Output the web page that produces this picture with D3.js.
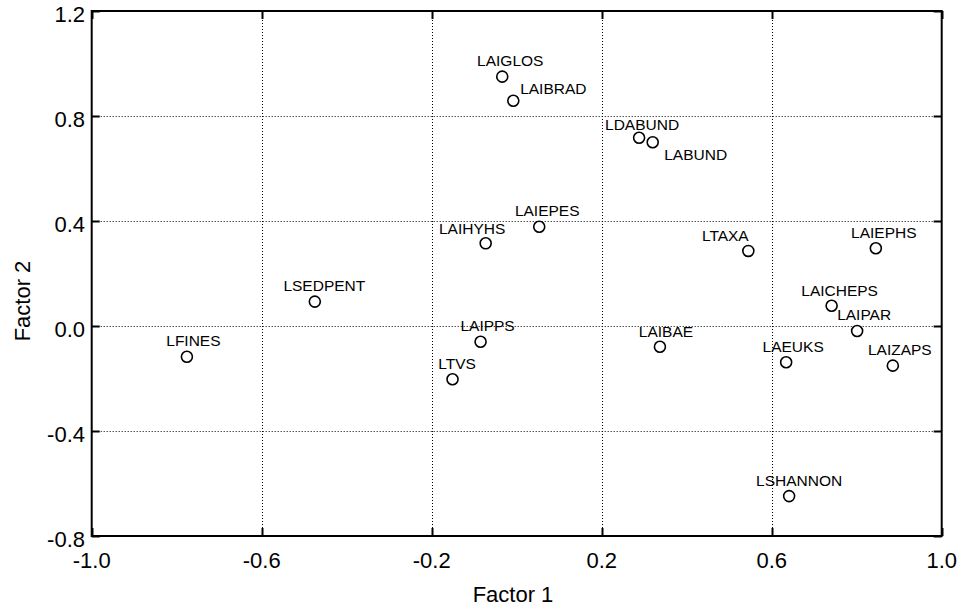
<!DOCTYPE html>
<html>
<head>
<meta charset="utf-8">
<script src="https://cdn.jsdelivr.net/npm/d3@7/dist/d3.min.js"></script>
<style>
  html, body { margin: 0; padding: 0; background: #fff; }
  svg { display: block; font-family: "Liberation Sans", Arial, Helvetica, sans-serif; }
</style>
</head>
<body>
<svg id="chart" width="968" height="612"></svg>
<script>
// Variable loadings on the first two factors
const variables = ["LAIGLOS", "LAIBRAD", "LDABUND", "LABUND", "LAIEPES", "LAIHYHS",
  "LTAXA", "LAIEPHS", "LAICHEPS", "LAIPAR", "LAEUKS", "LAIZAPS", "LSEDPENT",
  "LFINES", "LAIPPS", "LTVS", "LAIBAE", "LSHANNON"];
const factor1 = [-0.034, -0.008, 0.288, 0.320, 0.053, -0.073,
  0.545, 0.845, 0.741, 0.801, 0.634, 0.885, -0.475,
  -0.776, -0.085, -0.151, 0.337, 0.641];
const factor2 = [0.950, 0.858, 0.717, 0.700, 0.378, 0.315,
  0.286, 0.296, 0.077, -0.019, -0.138, -0.151, 0.093,
  -0.117, -0.060, -0.203, -0.079, -0.648];

const xTicks = [-1.0, -0.6, -0.2, 0.2, 0.6, 1.0];
const yTicks = [-0.8, -0.4, 0.0, 0.4, 0.8, 1.2];
const xTitle = "Factor 1";
const yTitle = "Factor 2";

// Label placement (text centre relative to its marker, in px)
const labelShift = [[8, -16], [40, -12], [3, -13.5], [43, 12], [8, -16], [-13.5, -15],
  [-23, -15], [8, -16], [8, -15], [7, -16.5], [7, -16], [7, -16], [9.5, -16],
  [6.5, -16], [7, -16], [4.5, -15.7], [6, -15], [10, -15.5]];

const svg = d3.select("#chart");
const plotL = 91.7, plotR = 941.7, plotT = 11, plotB = 536;

const x = d3.scaleLinear().domain([-1.0, 1.0]).range([plotL, plotR]);
const y = d3.scaleLinear().domain([-0.8, 1.2]).range([plotB, plotT]);

// one decimal, plain hyphen for negatives
const fmt = d => d.toFixed(1);

// dotted grid
const grid = svg.append("g")
  .attr("stroke", "#000").attr("stroke-width", 1).attr("stroke-dasharray", "1,2");
grid.selectAll("line.gx").data(xTicks.slice(1, -1)).join("line")
  .attr("x1", d => Math.round(x(d)) + 0.5).attr("x2", d => Math.round(x(d)) + 0.5)
  .attr("y1", plotT).attr("y2", plotB);
grid.selectAll("line.gy").data(yTicks.slice(1, -1)).join("line")
  .attr("y1", d => Math.round(y(d)) + 0.5).attr("y2", d => Math.round(y(d)) + 0.5)
  .attr("x1", plotL).attr("x2", plotR);

// inward tick marks on all four sides
const tickLen = 8;
const ticks = svg.append("g").attr("stroke", "#000").attr("stroke-width", 2);
xTicks.forEach(v => {
  const px = Math.round(x(v)) + 0.5;
  ticks.append("line").attr("x1", px).attr("x2", px).attr("y1", plotB).attr("y2", plotB - tickLen);
  ticks.append("line").attr("x1", px).attr("x2", px).attr("y1", plotT).attr("y2", plotT + tickLen);
});
yTicks.forEach(v => {
  const py = Math.round(y(v)) + 0.5;
  ticks.append("line").attr("y1", py).attr("y2", py).attr("x1", plotL).attr("x2", plotL + tickLen);
  ticks.append("line").attr("y1", py).attr("y2", py).attr("x1", plotR).attr("x2", plotR - tickLen);
});

// frame
svg.append("rect")
  .attr("x", plotL).attr("y", plotT)
  .attr("width", plotR - plotL).attr("height", plotB - plotT)
  .attr("fill", "none").attr("stroke", "#000").attr("stroke-width", 2);

// tick labels
svg.append("g").selectAll("text").data(xTicks).join("text")
  .attr("x", d => x(d)).attr("y", 568)
  .attr("text-anchor", "middle").attr("font-size", 22).attr("fill", "#000")
  .text(fmt);
svg.append("g").selectAll("text").data(yTicks).join("text")
  .attr("x", 85).attr("y", d => y(d) + 11.4)
  .attr("text-anchor", "end").attr("font-size", 22).attr("fill", "#000")
  .text(fmt);

// axis titles
svg.append("text")
  .attr("x", 513).attr("y", 602)
  .attr("text-anchor", "middle").attr("font-size", 22).attr("fill", "#000")
  .text(xTitle);
svg.append("text")
  .attr("transform", "translate(30,301) rotate(-90)")
  .attr("text-anchor", "middle").attr("font-size", 22).attr("fill", "#000")
  .text(yTitle);

// points and their names
const pts = variables.map((name, i) => ({ name, f1: factor1[i], f2: factor2[i], shift: labelShift[i] }));

svg.append("g").selectAll("circle").data(pts).join("circle")
  .attr("cx", d => x(d.f1)).attr("cy", d => y(d.f2)).attr("r", 5.5)
  .attr("fill", "#fff").attr("stroke", "#000").attr("stroke-width", 1.6);

svg.append("g").selectAll("text").data(pts).join("text")
  .attr("x", d => x(d.f1) + d.shift[0])
  .attr("y", d => y(d.f2) + d.shift[1] + 5.5)
  .attr("text-anchor", "middle").attr("font-size", 15.5).attr("fill", "#000")
  .text(d => d.name);
</script>
</body>
</html>
